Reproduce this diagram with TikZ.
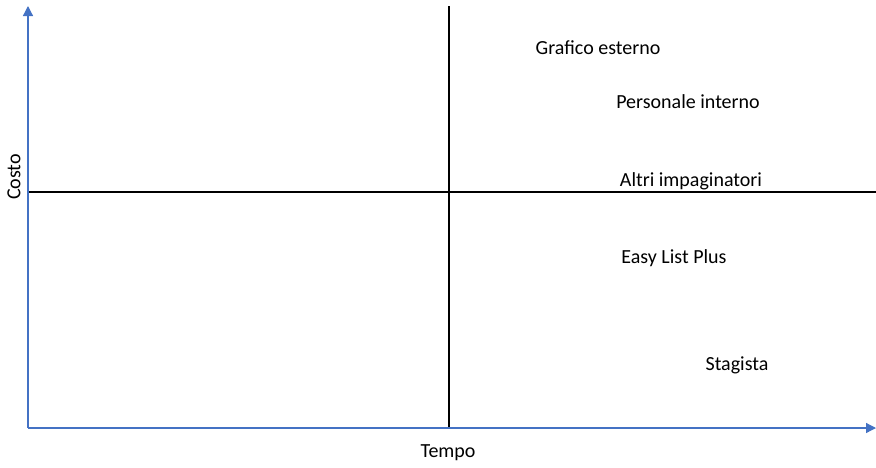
\documentclass[tikz,border=0pt]{standalone}
\usepackage{fontspec}
\setmainfont{Carlito}
\usetikzlibrary{arrows.meta}
\definecolor{axisblue}{RGB}{68,114,196}
\begin{document}
\begin{tikzpicture}[x=0.5pt,y=-0.5pt,font=\fontsize{10}{12}\selectfont,
	axis/.style={draw=axisblue,line width=0.6pt,-{Triangle[length=5pt,width=5pt]}},
	divider/.style={draw=black,line width=1pt}]
			\useasboundingbox (0,0) rectangle (876,467);
			\coordinate (o) at (28,428);
			\coordinate (ytop) at (28,6);
			\coordinate (xend) at (876,428);
			\coordinate (vtop) at (449,6);
			\coordinate (vbot) at (449,428);
			\coordinate (hleft) at (28,192);
			\coordinate (hright) at (876,192);
			\draw[divider] (vtop) to (vbot);
			\draw[divider] (hleft) to (hright);
			\draw[axis] (o) to (ytop);
			\draw[axis] (o) to (xend);
			\node[rotate=90] (costo) at (14,177){Costo};
			\node (tempo) at (448,453){Tempo};
			\node (grafico) at (598,48){Grafico esterno};
			\node (personale) at (688,102){Personale interno};
			\node (altri) at (691,181){Altri impaginatori};
			\node (easy) at (674,258){Easy List Plus};
			\node (stagista) at (737,365){Stagista};
		\end{tikzpicture}
\end{document}
